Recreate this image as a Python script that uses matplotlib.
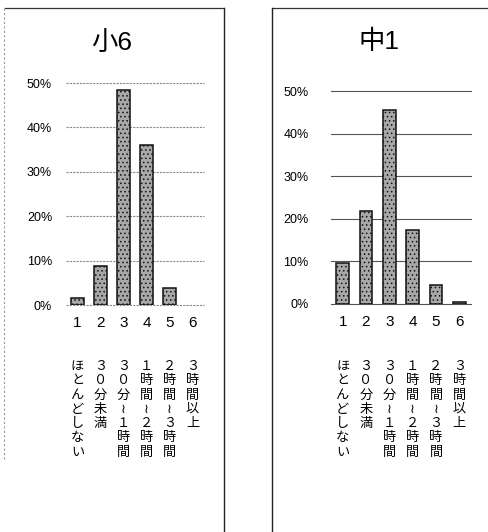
import matplotlib
matplotlib.use('Agg')
import matplotlib.pyplot as plt
from matplotlib.lines import Line2D
from matplotlib.transforms import blended_transform_factory

plt.rcParams['font.family'] = ['Liberation Sans', 'Noto Sans CJK JP', 'DejaVu Sans']
plt.rcParams['hatch.linewidth'] = 0.6

# data (percent)
numbers = ['1', '2', '3', '4', '5', '6']
categories = ['ほとんどしない', '３０分未満', '３０分～１時間',
              '１時間～２時間', '２時間～３時間', '３時間以上']
sho6 = [1.6, 8.8, 48.4, 36.0, 3.8, 0.0]
chu1 = [9.6, 21.8, 45.5, 17.4, 4.5, 0.5]
yticks = [0, 10, 20, 30, 40, 50]

W, H = 489, 532
fig = plt.figure(figsize=(W / 100, H / 100), dpi=100)


def px_box(left, right, top, bottom):
    return [left / W, 1 - bottom / H, (right - left) / W, (bottom - top) / H]


def draw_panel(rect, values, title, title_xy, ypad, gridcolor, gridstyle):
    ax = fig.add_axes(rect)
    x = list(range(1, len(values) + 1))
    bars = ax.bar(x, values, width=0.55, color='#a8a8a8', edgecolor='#111111',
                  linewidth=1.1, hatch='....')
    # an empty category gets no outline
    for b, v in zip(bars, values):
        if v == 0:
            b.set_linewidth(0)
    ax.set_xlim(0.5, 6.5)
    ax.set_ylim(0, 50)
    ax.set_yticks(yticks)
    ax.set_yticklabels(['%d%%' % v for v in yticks])
    ax.set_xticks(x)
    ax.set_xticklabels(numbers)
    ax.tick_params(axis='y', length=0, pad=ypad, labelsize=9)
    ax.tick_params(axis='x', length=0, pad=8, labelsize=11)
    for s in ax.spines.values():
        s.set_visible(False)
    ax.set_axisbelow(True)
    ax.grid(axis='y', color=gridcolor, linewidth=0.8, linestyle=gridstyle)
    for gl in ax.get_ygridlines():
        gl.set_clip_on(False)

    # vertical category labels, one glyph per row
    tr = blended_transform_factory(ax.transData, fig.transFigure)
    for i, cat in enumerate(categories):
        for j, ch in enumerate(cat.replace('～', '≀')):
            ax.text(x[i], 1 - (367 + j * 14.3) / H, ch, transform=tr,
                    ha='center', va='center', fontsize=9.5, clip_on=False)

    fig.text(title_xy[0] / W, 1 - title_xy[1] / H, title, ha='center',
             va='center', fontsize=19)
    return ax


draw_panel(px_box(66, 204, 83, 305), sho6, '小6', (112, 43), 10,
           '#8a8a8a', (0, (2, 1)))
draw_panel(px_box(331, 471, 91, 304), chu1, '中1', (379, 42), 16,
           '#555555', '-')

# panel frames of the scanned page
def frame(xs, ys, **kw):
    fig.add_artist(Line2D([v / W for v in xs], [1 - v / H for v in ys],
                          transform=fig.transFigure, **kw))


frame([5, 224], [8, 8], color='#333333', linewidth=0.9)
frame([224, 224], [8, 532], color='#222222', linewidth=1.0)
frame([4, 4], [8, 460], color='#999999', linewidth=0.8, linestyle=(0, (2, 2)))
frame([272, 489], [8, 8], color='#333333', linewidth=0.9)
frame([272, 272], [8, 532], color='#222222', linewidth=1.0)

fig.savefig('out.png', dpi=100)
